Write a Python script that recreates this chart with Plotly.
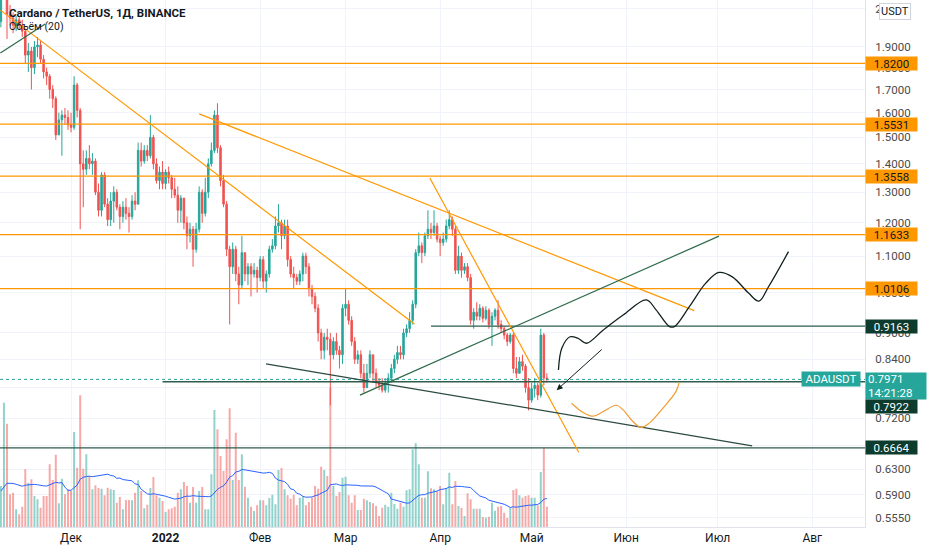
import numpy as np
import pandas as pd
import plotly.graph_objects as go

# ---- daily candles ADA/USDT ----
dates = pd.date_range("2021-11-08", periods=180, freq="D")
first_open = 2.03
close = [2.21, 2.25, 2.07, 2.05, 2.01, 2.04, 2.01, 1.98, 1.86, 1.88,
         1.80, 1.90, 1.91, 1.84, 1.78, 1.76, 1.70, 1.66, 1.51, 1.57,
         1.59, 1.58, 1.55, 1.54, 1.72, 1.61, 1.40, 1.38, 1.42, 1.40,
         1.41, 1.30, 1.24, 1.36, 1.26, 1.21, 1.27, 1.30, 1.25, 1.22,
         1.25, 1.23, 1.22, 1.27, 1.26, 1.45, 1.41, 1.45, 1.43, 1.50,
         1.40, 1.34, 1.37, 1.33, 1.37, 1.35, 1.31, 1.29, 1.24, 1.28,
         1.20, 1.16, 1.18, 1.12, 1.18, 1.30, 1.23, 1.30, 1.40, 1.45,
         1.59, 1.46, 1.34, 1.26, 1.12, 1.07, 1.12, 1.05, 1.02, 1.11,
         1.05, 1.07, 1.05, 1.06, 1.04, 1.09, 1.03, 1.05, 1.12, 1.13,
         1.19, 1.20, 1.16, 1.19, 1.09, 1.05, 1.04, 1.03, 1.05, 1.10,
         1.07, 1.01, 0.99, 0.96, 0.90, 0.86, 0.89, 0.885, 0.85, 0.88,
         0.86, 0.85, 0.96, 0.97, 0.93, 0.88, 0.84, 0.85, 0.81, 0.78,
         0.81, 0.85, 0.81, 0.79, 0.785, 0.775, 0.79, 0.80, 0.82, 0.84,
         0.855, 0.85, 0.90, 0.91, 0.93, 0.97, 1.11, 1.13, 1.11, 1.16,
         1.18, 1.17, 1.19, 1.15, 1.14, 1.15, 1.19, 1.21, 1.18, 1.06,
         1.10, 1.06, 1.07, 1.04, 0.93, 0.95, 0.94, 0.96, 0.935, 0.955,
         0.92, 0.94, 0.955, 0.92, 0.91, 0.895, 0.88, 0.895, 0.82, 0.81,
         0.835, 0.825, 0.78, 0.755, 0.778, 0.785, 0.765, 0.895, 0.80, 0.7971]
high = [2.24, 2.30, 2.28, 2.12, 2.08, 2.06, 2.06, 2.04, 1.99, 1.92,
        1.90, 1.93, 1.95, 1.93, 1.86, 1.80, 1.77, 1.72, 1.67, 1.60,
        1.61, 1.62, 1.61, 1.60, 1.76, 1.73, 1.62, 1.45, 1.45, 1.47,
        1.44, 1.42, 1.33, 1.37, 1.37, 1.28, 1.30, 1.32, 1.31, 1.26,
        1.27, 1.28, 1.25, 1.29, 1.30, 1.48, 1.48, 1.47, 1.47, 1.59,
        1.51, 1.42, 1.39, 1.41, 1.38, 1.39, 1.36, 1.35, 1.32, 1.29,
        1.28, 1.22, 1.20, 1.19, 1.20, 1.32, 1.31, 1.35, 1.42, 1.48,
        1.61, 1.64, 1.47, 1.36, 1.27, 1.13, 1.14, 1.13, 1.07, 1.16,
        1.11, 1.08, 1.08, 1.08, 1.07, 1.10, 1.10, 1.06, 1.13, 1.15,
        1.22, 1.26, 1.21, 1.21, 1.21, 1.10, 1.07, 1.05, 1.06, 1.11,
        1.11, 1.08, 1.02, 1.00, 0.97, 0.91, 0.90, 0.91, 0.90, 0.89,
        0.90, 0.87, 0.97, 1.01, 0.98, 0.94, 0.89, 0.86, 0.86, 0.83,
        0.83, 0.86, 0.85, 0.82, 0.80, 0.80, 0.80, 0.81, 0.83, 0.85,
        0.87, 0.87, 0.91, 0.92, 0.95, 0.98, 1.12, 1.17, 1.14, 1.17,
        1.24, 1.20, 1.24, 1.20, 1.16, 1.17, 1.21, 1.24, 1.22, 1.19,
        1.13, 1.11, 1.08, 1.08, 1.05, 0.96, 0.975, 0.97, 0.965, 0.965,
        0.96, 0.95, 0.96, 0.98, 0.93, 0.915, 0.90, 0.90, 0.90, 0.845,
        0.845, 0.85, 0.83, 0.80, 0.79, 0.80, 0.79, 0.91, 0.90, 0.81]
low = [2.00, 2.15, 1.94, 2.01, 1.97, 1.98, 1.99, 1.95, 1.82, 1.78,
       1.70, 1.77, 1.85, 1.82, 1.75, 1.72, 1.66, 1.62, 1.49, 1.51,
       1.43, 1.55, 1.53, 1.52, 1.53, 1.58, 1.18, 1.25, 1.36, 1.38,
       1.36, 1.29, 1.22, 1.22, 1.25, 1.19, 1.19, 1.20, 1.24, 1.18,
       1.20, 1.21, 1.17, 1.21, 1.24, 1.26, 1.39, 1.40, 1.41, 1.42,
       1.38, 1.33, 1.31, 1.31, 1.31, 1.33, 1.28, 1.28, 1.20, 1.20,
       1.18, 1.12, 1.14, 1.07, 1.11, 1.17, 1.20, 1.22, 1.28, 1.39,
       1.44, 1.44, 1.32, 1.25, 1.10, 0.92, 1.05, 1.03, 0.97, 1.01,
       1.03, 1.02, 0.99, 1.04, 1.00, 1.03, 1.01, 1.00, 1.04, 1.11,
       1.12, 1.17, 1.12, 1.15, 1.07, 1.04, 1.01, 1.02, 1.02, 1.03,
       1.05, 0.99, 0.97, 0.95, 0.88, 0.84, 0.84, 0.86, 0.745, 0.84,
       0.85, 0.82, 0.83, 0.94, 0.92, 0.87, 0.83, 0.83, 0.80, 0.77,
       0.78, 0.80, 0.79, 0.78, 0.775, 0.77, 0.77, 0.77, 0.79, 0.81,
       0.83, 0.84, 0.84, 0.89, 0.90, 0.92, 0.96, 1.10, 1.08, 1.10,
       1.15, 1.15, 1.16, 1.14, 1.10, 1.13, 1.14, 1.18, 1.16, 1.05,
       1.05, 1.04, 1.05, 1.03, 0.92, 0.91, 0.93, 0.93, 0.925, 0.93,
       0.91, 0.87, 0.93, 0.91, 0.90, 0.885, 0.87, 0.875, 0.81, 0.80,
       0.81, 0.815, 0.77, 0.735, 0.75, 0.76, 0.755, 0.76, 0.785, 0.79]
open_ = [first_open] + close[:-1]

# volume (millions ADA)
volume = [164, 497, 413, 131, 137, 71, 51, 81, 231, 177,
          191, 124, 111, 77, 124, 124, 251, 188, 289, 95,
          193, 131, 151, 144, 380, 237, 527, 233, 291, 204,
          151, 167, 156, 153, 127, 157, 151, 148, 97, 120,
          71, 108, 108, 107, 137, 187, 144, 75, 89, 156,
          200, 127, 117, 104, 60, 71, 75, 81, 137, 151,
          180, 164, 97, 160, 97, 144, 160, 71, 71, 211,
          468, 391, 284, 224, 351, 475, 188, 377, 188, 291,
          161, 117, 81, 64, 87, 107, 107, 87, 116, 129,
          91, 228, 236, 151, 127, 113, 129, 87, 117, 121,
          87, 100, 117, 164, 153, 241, 228, 204, 557, 164,
          124, 140, 197, 201, 127, 97, 127, 68, 68, 113,
          107, 100, 95, 84, 44, 77, 89, 81, 137, 92,
          73, 97, 81, 147, 151, 311, 335, 251, 117, 117,
          223, 155, 151, 143, 164, 91, 156, 217, 91, 184,
          84, 77, 44, 135, 111, 73, 73, 73, 40, 37,
          41, 97, 65, 81, 84, 57, 36, 77, 148, 153,
          127, 117, 124, 127, 117, 117, 87, 220, 317, 81]
vol_ma_seed = 143  # level of the MA(20) where it enters the window

# ---- levels and drawings ----
orange_levels = [1.8200, 1.5531, 1.3558, 1.1633, 1.0106]
green_levels = [0.9163, 0.7922, 0.6664]
green_level_start = ["2022-03-29", "2021-12-31", None]
last_price = 0.7971
countdown = "14:21:28"

orange_trend = [
    (("2021-11-07 20:00", "2022-03-23 14:00"), (2.092, 0.921)),
    (("2022-01-12", "2022-06-23 08:00"), (1.595, 0.954)),
    (("2022-03-28 15:00", "2022-05-16 10:00"), (1.349, 0.659)),
]
green_trend = [
    (("2021-11-07 20:00", "2021-11-22 12:00"), (1.870, 2.018)),
    (("2022-03-05 17:00", "2022-07-01 10:00"), (0.765, 1.159)),
]
dark_trend = (("2022-02-02 22:00", "2022-07-12 07:00"), (0.830, 0.670))

path_black_x = ["2022-05-09 19:00", "2022-05-10 22:00", "2022-05-13 14:00", "2022-05-16 07:00",
                "2022-05-19", "2022-05-24 12:00", "2022-05-31", "2022-06-07 14:00",
                "2022-06-10 19:00", "2022-06-15 05:00", "2022-06-16 19:00", "2022-06-21 17:00",
                "2022-06-27 02:00", "2022-07-01 10:00", "2022-07-05 19:00", "2022-07-11 05:00",
                "2022-07-14 12:00", "2022-07-17 17:00", "2022-07-24 05:00"]
path_black_y = [0.817, 0.865, 0.891, 0.887, 0.876, 0.907, 0.943, 0.981, 0.956, 0.915,
                0.915, 0.964, 1.025, 1.054, 1.042, 0.998, 0.978, 1.016, 1.113]
path_orange_x = ["2022-05-14 02:00", "2022-05-17 22:00", "2022-05-21 05:00", "2022-05-24 12:00",
                 "2022-05-28 19:00", "2022-05-31", "2022-06-03 05:00", "2022-06-05 22:00",
                 "2022-06-08 14:00", "2022-06-13", "2022-06-17 07:00", "2022-06-18 10:00"]
path_orange_y = [0.749, 0.731, 0.724, 0.733, 0.745, 0.736, 0.714, 0.703, 0.711, 0.739, 0.772, 0.792]
arrow_tail = ("2022-05-24 12:00", 0.865)
arrow_head = ("2022-05-09 05:00", 0.775)

price_ticks = [0.555, 0.59, 0.63, 0.67, 0.72, 0.78, 0.84, 0.90, 1.0, 1.1, 1.2, 1.3, 1.4, 1.5, 1.6, 1.7, 1.8, 1.9, 2.1]
month_ticks = ["2021-12-01", "2022-01-01", "2022-02-01", "2022-03-01", "2022-04-01",
               "2022-05-01", "2022-06-01", "2022-07-01", "2022-08-01"]
month_text = ["Дек", "<b>2022</b>", "Фев", "Мар", "Апр", "Май", "Июн", "Июл", "Авг"]

x_start, x_end = "2021-11-07 17:00", "2022-08-18 07:00"
UP, DOWN = "#26a69a", "#ef5350"
ORANGE, DKGREEN, DKLABEL = "#ff9800", "#2f5d4d", "#0d3b2d"

vol_ma = pd.Series([vol_ma_seed] * 19 + volume).rolling(20).mean().iloc[19:].values
vol_colors = ["rgba(38,166,154,0.5)" if c >= o else "rgba(239,83,80,0.5)" for o, c in zip(open_, close)]

fig = go.Figure()

# volume in the bottom of the pane
fig.add_trace(go.Bar(x=dates, y=volume, marker_color=vol_colors, marker_line_width=0, yaxis="y"))
fig.add_trace(go.Scatter(x=dates, y=vol_ma, mode="lines", line=dict(color="#2962ff", width=1), yaxis="y"))

# horizontal levels
for lv in orange_levels:
    fig.add_trace(go.Scatter(x=[x_start, x_end], y=[lv, lv], mode="lines",
                             line=dict(color=ORANGE, width=1.3), yaxis="y2"))
for lv, st in zip(green_levels, green_level_start):
    fig.add_trace(go.Scatter(x=[st or x_start, x_end], y=[lv, lv], mode="lines",
                             line=dict(color=DKGREEN, width=1.3), yaxis="y2"))
fig.add_trace(go.Scatter(x=[x_start, x_end], y=[last_price, last_price], mode="lines",
                         line=dict(color=UP, width=1, dash="dot"), yaxis="y2"))

# trend lines
for xs, ys in orange_trend:
    fig.add_trace(go.Scatter(x=list(xs), y=list(ys), mode="lines",
                             line=dict(color=ORANGE, width=1.2), yaxis="y2"))
for xs, ys in green_trend:
    fig.add_trace(go.Scatter(x=list(xs), y=list(ys), mode="lines",
                             line=dict(color="#2e6b4a", width=1.2), yaxis="y2"))
fig.add_trace(go.Scatter(x=list(dark_trend[0]), y=list(dark_trend[1]), mode="lines",
                         line=dict(color="#2c4a40", width=1.2), yaxis="y2"))

# hand drawn paths
fig.add_trace(go.Scatter(x=path_black_x, y=path_black_y, mode="lines",
                         line=dict(color="#10201a", width=1.3, shape="spline", smoothing=1.0), yaxis="y2"))
fig.add_trace(go.Scatter(x=path_orange_x, y=path_orange_y, mode="lines",
                         line=dict(color="#f39c33", width=1.2, shape="spline", smoothing=1.0), yaxis="y2"))

# candles
fig.add_trace(go.Candlestick(
    x=dates, open=open_, high=high, low=low, close=close, yaxis="y2",
    increasing=dict(line=dict(color=UP, width=1), fillcolor=UP),
    decreasing=dict(line=dict(color=DOWN, width=1), fillcolor=DOWN),
    whiskerwidth=0))

ann = []
# header
ann.append(dict(xref="paper", yref="paper", x=0, y=1, xanchor="left", yanchor="top", xshift=7, yshift=-4,
                text="<b>Cardano / TetherUS, 1Д, BINANCE</b>", showarrow=False,
                font=dict(size=11.5, color="#131722")))
ann.append(dict(xref="paper", yref="paper", x=0, y=1, xanchor="left", yanchor="top", xshift=7, yshift=-18,
                text="Объём (20)", showarrow=False, font=dict(size=10.5, color="#131722")))


def axis_label(val, text, bg, fg, yshift=0, height=13, yanchor="middle"):
    return dict(xref="paper", yref="y2", x=1, y=np.log10(val), xanchor="left", yanchor=yanchor,
                yshift=yshift, text=text, showarrow=False, bgcolor=bg, width=51, height=height,
                borderpad=0, font=dict(size=11.5, color=fg))


for lv in orange_levels:
    ann.append(axis_label(lv, f"{lv:.4f}", ORANGE, "#131722"))
ann.append(axis_label(green_levels[0], f"{green_levels[0]:.4f}", DKLABEL, "white"))
ann.append(axis_label(green_levels[2], f"{green_levels[2]:.4f}", DKLABEL, "white"))
ann.append(dict(xref="paper", yref="y2", x=1, y=np.log10(last_price), xanchor="left", yanchor="top", yshift=7,
                text=f"{last_price:.4f}<br>{countdown}", showarrow=False, bgcolor=UP, width=56, height=22,
                align="left", borderpad=2, font=dict(size=11.5, color="white")))
ann.append(axis_label(green_levels[1], f"{green_levels[1]:.4f}", DKLABEL, "white", yshift=-17, yanchor="top"))
ann.append(dict(xref="paper", yref="y2", x=1, y=np.log10(last_price), xanchor="right", xshift=-4,
                text="ADAUSDT", showarrow=False, bgcolor=UP, width=58, height=14, borderpad=0,
                font=dict(size=11.5, color="white")))
ann.append(dict(xref="paper", yref="paper", x=1, y=1, xanchor="left", yanchor="top", xshift=14, yshift=-3,
                text="USDT", showarrow=False, bgcolor="white", bordercolor="#d1d4dc", borderwidth=1,
                borderpad=1, font=dict(size=11, color="#131722")))
# arrow
ann.append(dict(xref="x", yref="y2", axref="x", ayref="y2",
                x=arrow_head[0], y=np.log10(arrow_head[1]), ax=arrow_tail[0], ay=np.log10(arrow_tail[1]),
                text="", showarrow=True, arrowhead=2, arrowsize=1.2, arrowwidth=1, arrowcolor="#10201a"))

fig.update_layout(
    width=932, height=550,
    margin=dict(l=0, r=67, t=0, b=23, autoexpand=False),
    paper_bgcolor="white", plot_bgcolor="white",
    showlegend=False, bargap=0.35,
    font=dict(family="Roboto, Arial, sans-serif", size=11, color="#131722"),
    xaxis=dict(type="date", range=[x_start, x_end], rangeslider=dict(visible=False),
               tickvals=month_ticks, ticktext=month_text, showgrid=True, gridcolor="#f0f3fa",
               showline=True, linecolor="#e0e3eb", ticks="", tickfont=dict(size=12, color="#131722"),
               zeroline=False),
    yaxis=dict(range=[0, 2108], visible=False, fixedrange=True),
    yaxis2=dict(type="log", overlaying="y", side="right",
                range=[np.log10(0.542), np.log10(2.148)],
                tickvals=price_ticks, ticktext=[f"{v:.4f}" for v in price_ticks],
                showgrid=True, gridcolor="#f0f3fa", showline=True, linecolor="#e0e3eb",
                ticks="", ticklabelstandoff=7, tickfont=dict(size=11.5, color="#4a4a4a"), zeroline=False),
    annotations=ann,
)

# the page body has a default 8px margin; remove it so the figure fills the window
fig.write_html("out.html", config={"displayModeBar": False},
               post_script="document.body.style.margin='0px';")
